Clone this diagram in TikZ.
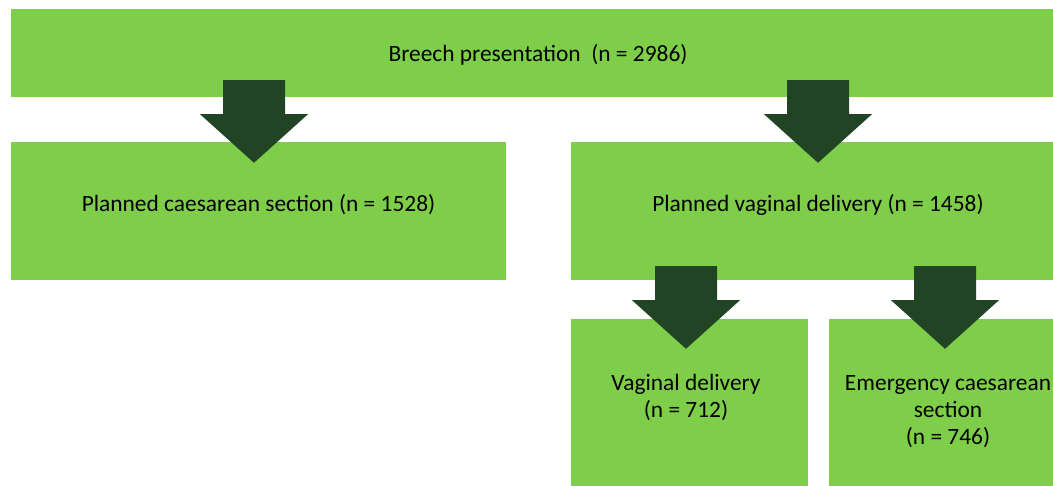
\documentclass[tikz,border=0pt]{standalone}
\usepackage{fontspec}
\setmainfont{Carlito}
\usetikzlibrary{calc}

\definecolor{boxgreen}{RGB}{126,206,74}
\definecolor{arrowgreen}{RGB}{32,68,36}

% fat down arrow: #1 = top of shaft, #2 = tip
\newcommand{\fatarrow}[2]{%
    \fill [blockarrow] let \p1 = (#1), \p2 = (#2) in
        (\x2-31pt,\y1) -- (\x2+31pt,\y1) -- (\x2+31pt,\y1-34pt) -- (\x2+54pt,\y1-34pt)
        -- (\x2,\y2) -- (\x2-54pt,\y1-34pt) -- (\x2-31pt,\y1-34pt) -- cycle;}

\begin{document}
\begin{tikzpicture}
        [
            x                 = 1pt,
            y                 = -1pt,
            box/.style        = {shape=rectangle, fill=boxgreen, inner sep=0pt},
            boxtext/.style    = {font=\fontsize{23.4}{27}\selectfont, align=center, inner sep=0pt},
            blockarrow/.style = {fill=arrowgreen},
        ]
        \useasboundingbox (0,0) rectangle (1053,486);
        \clip (0,0) rectangle (1053,486);

        \node [box, minimum width=1054pt, minimum height=88pt]  (breech)  at (538,53)    {};
        \node [box, minimum width=495pt,  minimum height=138pt] (caesar)  at (258.5,211) {};
        \node [box, minimum width=494pt,  minimum height=138pt] (vaginal) at (818,211)   {};
        \node [box, minimum width=237pt,  minimum height=181pt] (vagdel)  at (689.5,409.5) {};
        \node [box, minimum width=236pt,  minimum height=181pt] (emerg)   at (947,409.5) {};

        % base anchor sits on the last line
        \node [boxtext, anchor=base] (breech-t)  at ([yshift=-9pt]breech.center)  {Breech presentation~~(n = 2986)};
        \node [boxtext, anchor=base] (caesar-t)  at ([yshift=-1pt]caesar.center)  {Planned caesarean section (n = 1528)};
        \node [boxtext, anchor=base] (vaginal-t) at ([yshift=-1pt]vaginal.center) {Planned vaginal delivery (n = 1458)};
        \node [boxtext, anchor=base] (vagdel-t)  at ([xshift=-3.5pt,yshift=-99pt]vagdel.north) {Vaginal delivery\\(n = 712)};
        \node [boxtext, anchor=base] (emerg-t)   at ([xshift=1pt,yshift=-126pt]emerg.north)   {Emergency caesarean\\section\\(n = 746)};

        \fatarrow{$(breech.south -| caesar.north)+(-4.5,-17)$}{$(caesar.north)+(-4.5,21)$}
        \fatarrow{$(breech.south -| vaginal.north)+(0,-17)$}{$(vaginal.north)+(0,21)$}
        \fatarrow{$(vaginal.south -| vagdel.north)+(-3.5,-14)$}{$(vagdel.north)+(-3.5,30)$}
        \fatarrow{$(vaginal.south -| emerg.north)+(-2,-14)$}{$(emerg.north)+(-2,30)$}
    \end{tikzpicture}
\end{document}
